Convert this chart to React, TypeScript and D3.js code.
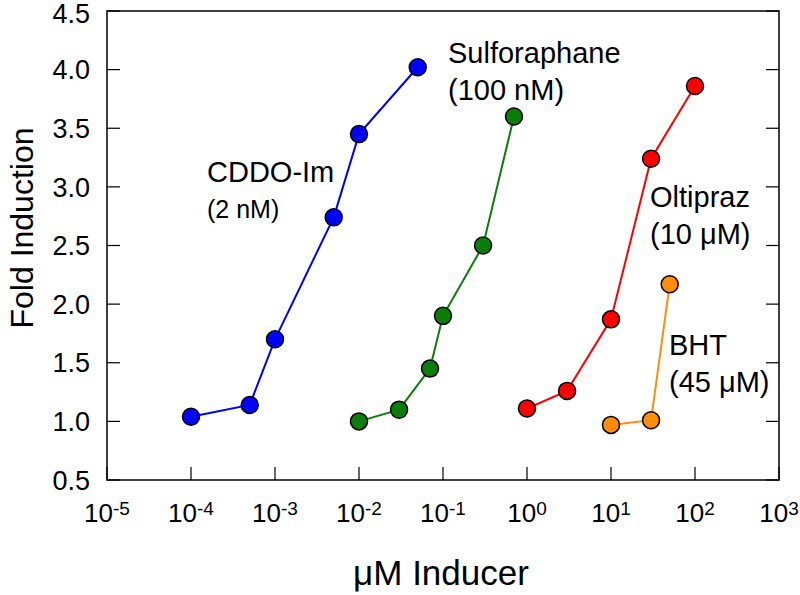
import React, { useRef, useEffect } from "react";
import * as d3 from "d3";

// concentrations (uM) and fold induction
const cddoDose = [0.0001, 0.0005, 0.001, 0.005, 0.01, 0.05];
const cddoFold = [1.04, 1.14, 1.7, 2.74, 3.45, 4.02];
const sulfDose = [0.01, 0.03, 0.07, 0.1, 0.3, 0.7];
const sulfFold = [1.0, 1.1, 1.45, 1.9, 2.5, 3.6];
const oltiDose = [1, 3, 10, 30, 100];
const oltiFold = [1.11, 1.26, 1.87, 3.24, 3.86];
const bhtDose = [10, 30, 50];
const bhtFold = [0.97, 1.01, 2.17];

const xExponents = [-5, -4, -3, -2, -1, 0, 1, 2, 3];
const yTicks = [0.5, 1.0, 1.5, 2.0, 2.5, 3.0, 3.5, 4.0, 4.5];

const series = [
  { name: "CDDO-Im", dose: cddoDose, fold: cddoFold, color: "#0000ff" },
  { name: "Sulforaphane", dose: sulfDose, fold: sulfFold, color: "#0a7d0a" },
  { name: "Oltipraz", dose: oltiDose, fold: oltiFold, color: "#ff0000" },
  { name: "BHT", dose: bhtDose, fold: bhtFold, color: "#ff8c0a" },
];

const labels = [
  { line1: "CDDO-Im", line2: "(2 nM)", x: 207, y: 182, small: true },
  { line1: "Sulforaphane", line2: "(100 nM)", x: 448, y: 63, small: false },
  { line1: "Oltipraz", line2: "(10 \u03bcM)", x: 650, y: 207, small: false },
  { line1: "BHT", line2: "(45 \u03bcM)", x: 669, y: 355, small: false },
];

const FONT = "'Liberation Sans', Arial, Helvetica, sans-serif";

const App = () => {
  const ref = useRef(null);
  const width = 800;
  const height = 595;
  const margin = { left: 107, right: 21, top: 11, bottom: 115 };

  useEffect(() => {
    const svg = d3.select(ref.current);
    svg.selectAll("*").remove();

    const x = d3
      .scaleLog()
      .domain([1e-5, 1e3])
      .range([margin.left, width - margin.right]);
    const y = d3
      .scaleLinear()
      .domain([0.5, 4.5])
      .range([height - margin.bottom, margin.top]);

    const g = svg.append("g").attr("font-family", FONT);

    // frame
    g.append("rect")
      .attr("x", x(1e-5))
      .attr("y", y(4.5))
      .attr("width", x(1e3) - x(1e-5))
      .attr("height", y(0.5) - y(4.5))
      .attr("fill", "none")
      .attr("stroke", "#000")
      .attr("stroke-width", 1.5);

    const tickLen = 13;

    // y ticks, left and right, pointing inward
    yTicks.forEach((t) => {
      g.append("line")
        .attr("x1", x(1e-5))
        .attr("x2", x(1e-5) + tickLen)
        .attr("y1", y(t))
        .attr("y2", y(t))
        .attr("stroke", "#000")
        .attr("stroke-width", 1.2);
      g.append("line")
        .attr("x1", x(1e3))
        .attr("x2", x(1e3) - tickLen)
        .attr("y1", y(t))
        .attr("y2", y(t))
        .attr("stroke", "#000")
        .attr("stroke-width", 1.2);
      g.append("text")
        .attr("x", x(1e-5) - 17)
        .attr("y", Math.max(y(t), 13))
        .attr("dy", "0.36em")
        .attr("text-anchor", "end")
        .attr("font-size", 27)
        .text(t.toFixed(1));
    });

    // x ticks (bottom, inward) with 10^n labels
    xExponents.forEach((e) => {
      const v = Math.pow(10, e);
      g.append("line")
        .attr("x1", x(v))
        .attr("x2", x(v))
        .attr("y1", y(0.5))
        .attr("y2", y(0.5) - tickLen)
        .attr("stroke", "#000")
        .attr("stroke-width", 1.2);
      const t = g
        .append("text")
        .attr("x", x(v))
        .attr("y", y(0.5) + 42)
        .attr("text-anchor", "middle")
        .attr("font-size", 26);
      t.append("tspan").text("10");
      t.append("tspan")
        .attr("font-size", 19)
        .attr("dy", -7)
        .text(e < 0 ? `-${-e}` : `${e}`);
    });

    // axis titles
    g.append("text")
      .attr("x", (x(1e-5) + x(1e3)) / 2 - 2)
      .attr("y", 585)
      .attr("text-anchor", "middle")
      .attr("font-size", 35)
      .text("\u03bcM Inducer");

    g.append("text")
      .attr("transform", "translate(33, 228) rotate(-90)")
      .attr("text-anchor", "middle")
      .attr("font-size", 32)
      .text("Fold Induction");

    // series
    const line = d3
      .line()
      .x((d) => x(d[0]))
      .y((d) => y(d[1]));

    series.forEach((s) => {
      const pts = s.dose.map((d, i) => [d, s.fold[i]]);
      g.append("path")
        .attr("d", line(pts))
        .attr("fill", "none")
        .attr("stroke", s.color)
        .attr("stroke-width", 2);
      g.selectAll(null)
        .data(pts)
        .enter()
        .append("circle")
        .attr("cx", (d) => x(d[0]))
        .attr("cy", (d) => y(d[1]))
        .attr("r", 8.5)
        .attr("fill", s.color)
        .attr("stroke", "#000")
        .attr("stroke-width", 1.5);
    });

    // annotations
    labels.forEach((l) => {
      g.append("text")
        .attr("x", l.x)
        .attr("y", l.y)
        .attr("font-size", 29)
        .text(l.line1);
      g.append("text")
        .attr("x", l.x)
        .attr("y", l.y + (l.small ? 36 : 37))
        .attr("font-size", l.small ? 25 : 29)
        .text(l.line2);
    });

    return () => {
      d3.select(ref.current).selectAll("*").remove();
    };
  }, []);

  return (
    <svg
      ref={ref}
      width={width}
      height={height}
      style={{ position: "absolute", left: 0, top: 0, background: "#fff" }}
    ></svg>
  );
};

export default App;
